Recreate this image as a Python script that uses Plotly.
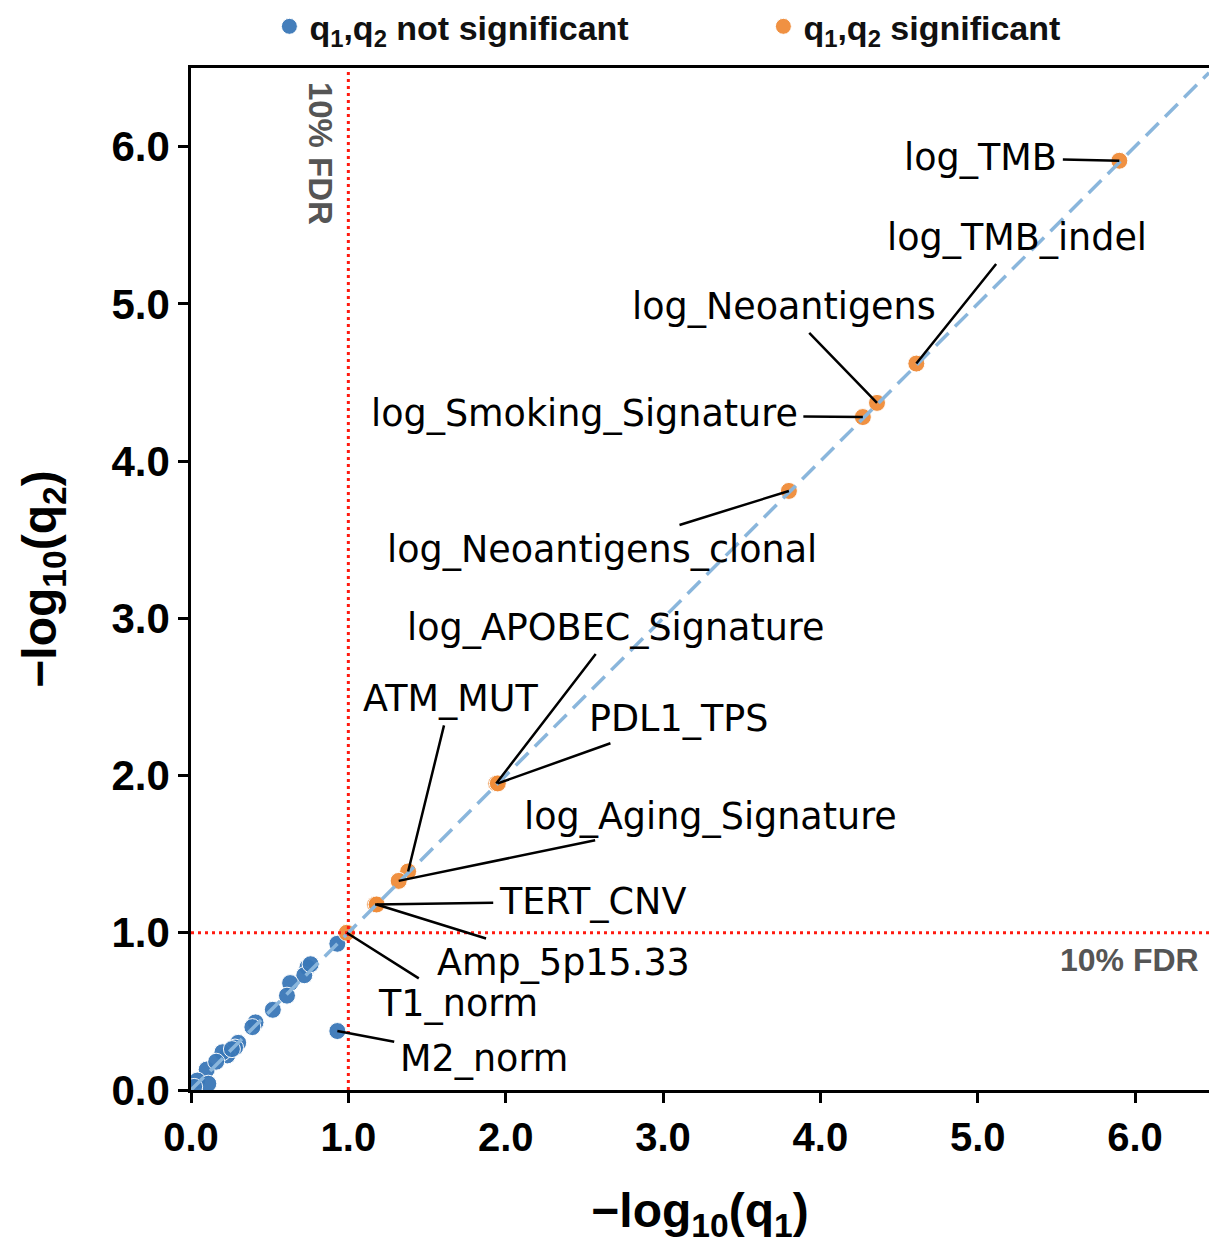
import plotly.graph_objects as go
import math

# ---- data ----
sig_names = ["log_TMB", "log_TMB_indel", "log_Neoantigens", "log_Smoking_Signature",
             "log_Neoantigens_clonal", "log_APOBEC_Signature", "PDL1_TPS", "ATM_MUT",
             "log_Aging_Signature", "TERT_CNV", "Amp_5p15.33", "T1_norm"]
sig_q1 = [5.90, 4.61, 4.36, 4.27, 3.80, 1.94, 1.95, 1.38, 1.32, 1.17, 1.18, 0.99]
sig_q2 = [5.91, 4.62, 4.37, 4.28, 3.81, 1.95, 1.95, 1.39, 1.33, 1.18, 1.18, 1.00]

nonsig_names = ["", "M2_norm", "", "", "", "", "", "", "", "", "", "", "", "", "", "", "",
                "", "", ""]
nonsig_q1 = [0.93, 0.93, 0.74, 0.72, 0.63, 0.61, 0.52, 0.41, 0.39, 0.30, 0.28, 0.23,
             0.20, 0.10, 0.04, 0.11, 0.02, 0.76, 0.26, 0.16]
nonsig_q2 = [0.93, 0.375, 0.78, 0.73, 0.68, 0.60, 0.51, 0.43, 0.40, 0.30, 0.27, 0.22,
             0.24, 0.13, 0.06, 0.04, 0.02, 0.80, 0.26, 0.18]

fdr = 0.10
fdr_line = -math.log10(fdr)

x_ticks = [0, 1, 2, 3, 4, 5, 6]
y_ticks = [0, 1, 2, 3, 4, 5, 6]

# label placement (layout, in axis units)
label_pos = {
    "log_TMB": (5.02, 5.93),
    "log_TMB_indel": (5.25, 5.42),
    "log_Neoantigens": (3.77, 4.98),
    "log_Smoking_Signature": (2.50, 4.30),
    "log_Neoantigens_clonal": (2.61, 3.44),
    "log_APOBEC_Signature": (2.70, 2.94),
    "PDL1_TPS": (3.10, 2.36),
    "ATM_MUT": (1.65, 2.49),
    "log_Aging_Signature": (3.30, 1.74),
    "TERT_CNV": (2.55, 1.20),
    "Amp_5p15.33": (2.37, 0.81),
    "T1_norm": (1.70, 0.55),
    "M2_norm": (1.86, 0.20),
}

XR = [0, 6.47]
YR = [0, 6.5]

BLUE = "#3a78b8"
ORANGE = "#f08c38"

fig = go.Figure()

fig.add_trace(go.Scatter(
    x=nonsig_q1, y=nonsig_q2, mode="markers", name="q<sub>1</sub>,q<sub>2</sub> not significant",
    marker=dict(color=BLUE, size=17, line=dict(color="white", width=1), opacity=0.95),
))
fig.add_trace(go.Scatter(
    x=sig_q1, y=sig_q2, mode="markers", name="q<sub>1</sub>,q<sub>2</sub> significant",
    marker=dict(color=ORANGE, size=17, line=dict(color="white", width=1), opacity=0.95),
))

# diagonal
fig.add_trace(go.Scatter(
    x=[XR[0], XR[1]], y=[XR[0], XR[1]], mode="lines", showlegend=False, hoverinfo="skip",
    line=dict(color="#8ab6dc", width=3.5, dash="18px,9px"),
))
# FDR lines
fig.add_trace(go.Scatter(
    x=[fdr_line, fdr_line], y=[YR[0], YR[1]], mode="lines", showlegend=False, hoverinfo="skip",
    line=dict(color="#ff1a10", width=3, dash="3px,4px"),
))
fig.add_trace(go.Scatter(
    x=[XR[0], XR[1]], y=[fdr_line, fdr_line], mode="lines", showlegend=False, hoverinfo="skip",
    line=dict(color="#ff1a10", width=3, dash="3px,4px"),
))

annotations = []
all_names = sig_names + nonsig_names
all_x = sig_q1 + nonsig_q1
all_y = sig_q2 + nonsig_q2
for n, px, py in zip(all_names, all_x, all_y):
    if n in label_pos:
        lx, ly = label_pos[n]
        annotations.append(dict(
            x=px, y=py, xref="x", yref="y", ax=lx, ay=ly, axref="x", ayref="y",
            text=n, showarrow=True, arrowhead=0, arrowwidth=2.5, arrowcolor="black",
            standoff=0, startstandoff=4,
            font=dict(family="DejaVu Sans", size=36.5, color="black"),
        ))

annotations.append(dict(
    x=0.82, y=5.96, xref="x", yref="y", text="10% FDR", showarrow=False, textangle=90,
    font=dict(family="Liberation Sans", size=33, color="#555555", weight="bold"),
))
annotations.append(dict(
    x=6.42, y=0.83, xref="x", yref="y", text="10% FDR", showarrow=False, xanchor="right",
    font=dict(family="Liberation Sans", size=32, color="#555555", weight="bold"),
))

fig.update_layout(
    width=1209, height=1247,
    margin=dict(l=191, r=0, t=68, b=157, autoexpand=False),
    plot_bgcolor="white", paper_bgcolor="white",
    annotations=annotations,
    legend=dict(orientation="h", x=0.077, xanchor="left", y=1.012, yanchor="bottom",
                font=dict(family="Liberation Sans", size=34, color="#111111", weight="bold"),
                entrywidth=449, bgcolor="rgba(0,0,0,0)"),
    showlegend=True,
)
fig.update_xaxes(
    range=XR, tickvals=x_ticks, tickformat=".1f", showgrid=False, zeroline=False,
    showline=True, linecolor="black", linewidth=2.5, mirror=True, automargin=False,
    ticks="outside", ticklen=10, tickwidth=2.5, tickcolor="black",
    tickfont=dict(family="Liberation Sans", size=40, color="black", weight="bold"),
    title=dict(text="−log<sub>10</sub>(q<sub>1</sub>)", standoff=36,
               font=dict(family="Liberation Sans", size=48, color="black", weight="bold")),
)
fig.update_yaxes(
    range=YR, tickvals=y_ticks, tickformat=".1f", showgrid=False, zeroline=False,
    showline=True, linecolor="black", linewidth=2.5, mirror=False, automargin=False,
    ticks="outside", ticklen=10, tickwidth=2.5, tickcolor="black",
    tickfont=dict(family="Liberation Sans", size=42, color="black", weight="bold"),
    title=dict(text="−log<sub>10</sub>(q<sub>2</sub>)", standoff=40,
               font=dict(family="Liberation Sans", size=48, color="black", weight="bold")),
)

fig.write_html("out.html", config={"displayModeBar": False},
               post_script="document.body.style.margin='0px';document.body.style.overflow='hidden';")
